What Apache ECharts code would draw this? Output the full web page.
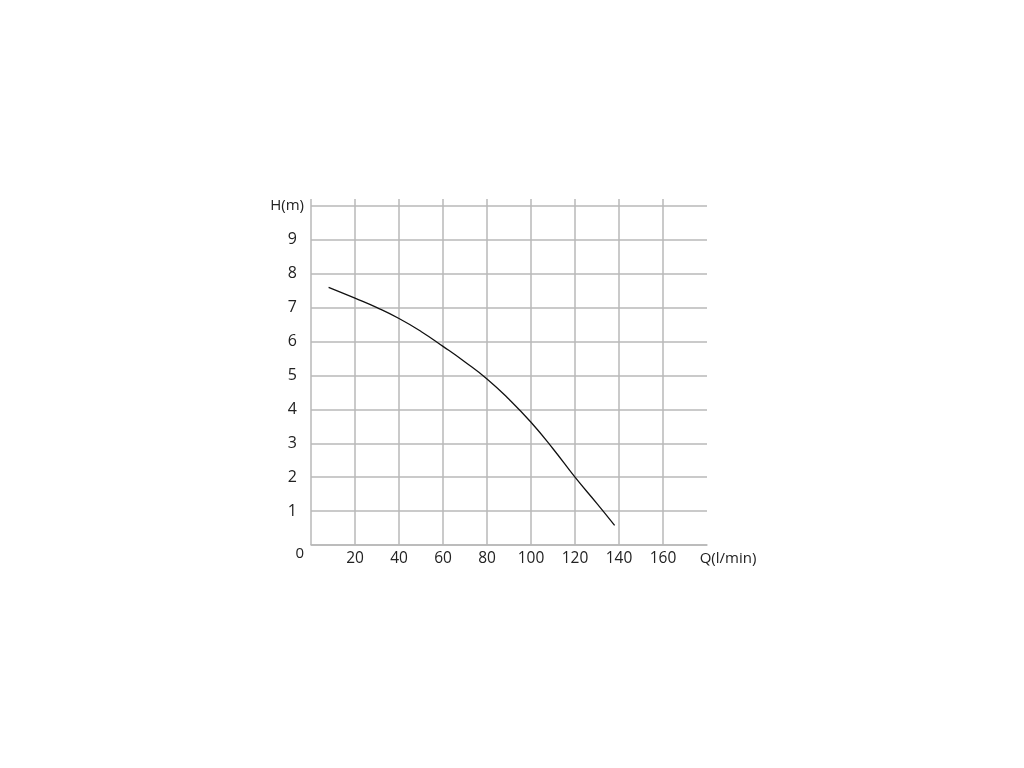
<!DOCTYPE html>
<html><head><meta charset="utf-8">
<script src="https://cdn.jsdelivr.net/npm/echarts@6/dist/echarts.min.js"></script>
<style>html,body{margin:0;padding:0;background:#fff}#c{width:1024px;height:768px}</style>
</head><body><div id="c"></div>
<script>
const flowQ = [8, 20, 30, 40, 50, 60, 70, 80, 90, 100, 110, 120, 130, 138];
const headH = [7.6, 7.28, 7.0, 6.68, 6.3, 5.86, 5.4, 4.9, 4.3, 3.62, 2.84, 2.0, 1.22, 0.58];
const xName = 'Q(l/min)';
const yName = 'H(m)';
const xTicks = [20, 40, 60, 80, 100, 120, 140, 160];

const gridColor = '#b8b8b8';
const font = 'Open Sans';
const chart = echarts.init(document.getElementById('c'));
chart.setOption({
  animation: false,
  backgroundColor: '#fff',
  grid: [
    {left: 311, right: 317, top: 206, bottom: 223},
    {left: 311, width: 352, top: 199, bottom: 223}
  ],
  xAxis: [
    {gridIndex: 0, type: 'value', min: 0, max: 180, interval: 20,
     axisLine: {show: true, lineStyle: {color: gridColor, width: 1.5}},
     axisTick: {show: false},
     splitLine: {show: false},
     axisLabel: {color: '#222', fontFamily: font, fontSize: 15.5, margin: 6,
       showMaxLabel: true,
       formatter: v => v === 180 ? '{q|' + xName + '}' : (xTicks.indexOf(v) >= 0 ? String(v) : ''),
       rich: {q: {color: '#222', fontFamily: font, fontSize: 15, padding: [0, 0, 3, 42]}}}},
    {gridIndex: 1, type: 'value', min: 0, max: 160, interval: 20,
     axisLine: {show: false}, axisTick: {show: false}, axisLabel: {show: false},
     splitLine: {show: true, lineStyle: {color: gridColor, width: 1.5}}}
  ],
  yAxis: [
    {gridIndex: 0, type: 'value', min: 0, max: 10, interval: 1,
     axisLine: {show: false}, axisTick: {show: false},
     splitLine: {show: true, lineStyle: {color: gridColor, width: 1.5}},
     axisLabel: {color: '#222', fontFamily: font, fontSize: 15, margin: 7,
       showMaxLabel: true, showMinLabel: true,
       formatter: v => v === 10 ? '{h|' + yName + '}' : (v === 0 ? '{z|0}' : '{d|' + v + '}'),
       rich: {
         h: {color: '#222', fontFamily: font, fontSize: 15},
         d: {color: '#222', fontFamily: font, fontSize: 16, padding: [0, 7, 0, 0]},
         z: {color: '#222', fontFamily: font, fontSize: 15, padding: [18, 0, 0, 0]}
       }}},
    {gridIndex: 1, type: 'value', min: 0, max: 1, show: false, splitLine: {show: false}}
  ],
  series: [{
    type: 'line', xAxisIndex: 0, yAxisIndex: 0, smooth: 0.5, showSymbol: false,
    lineStyle: {color: '#111', width: 1.3},
    data: flowQ.map((q, i) => [q, headH[i]])
  }]
});
</script></body></html>
